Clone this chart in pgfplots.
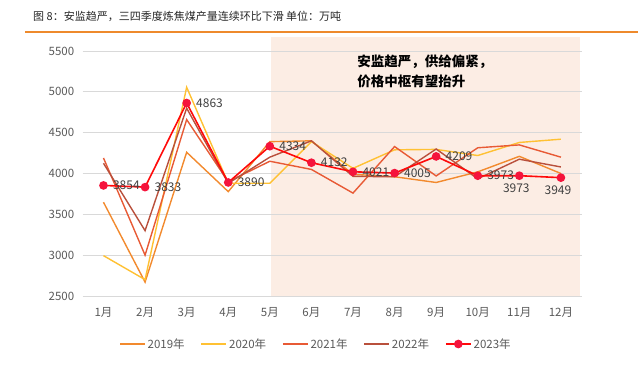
\documentclass[border=0pt]{standalone}
\usepackage{fontspec}
\setmainfont{Noto Sans CJK SC}
\usepackage{pgfplots}
\pgfplotsset{compat=1.18}
\definecolor{c19}{HTML}{F28A2E}
\definecolor{c20}{HTML}{FFC133}
\definecolor{c21}{HTML}{E85A35}
\definecolor{c22}{HTML}{B9503C}
\definecolor{c23}{HTML}{FF0A0A}
\definecolor{mk}{HTML}{F5143C}
\definecolor{shadec}{HTML}{FCEDE4}
\definecolor{gridc}{HTML}{D9D9D9}
\definecolor{tickc}{HTML}{595959}
\definecolor{labc}{HTML}{404040}
\definecolor{titlec}{HTML}{262626}
\definecolor{rulec}{HTML}{EE8A2C}
\pgfplotsset{/pgf/number format/assume math mode=true, /pgf/number format/1000 sep={}}
\begin{document}
\begin{tikzpicture}
\node[anchor=west, font=\fontsize{11}{13}\selectfont, text=titlec, inner sep=0pt] at (33pt,353pt) {图 8：安监趋严，三四季度炼焦煤产量连续环比下滑 单位：万吨};
\draw[rulec, line width=1.2pt] (25pt,337pt) -- (638pt,337pt);
\begin{axis}[
  set layers,
  at={(82.7pt,73pt)}, anchor=south west, scale only axis,
  width=499pt, height=245pt,
  xmin=0.5, xmax=12.5, ymin=2500, ymax=5500,
  xtick={1,...,12},
  xticklabels={1月,2月,3月,4月,5月,6月,7月,8月,9月,10月,11月,12月},
  ytick={2500,3000,...,5500},
  axis line style={draw=none},
  major tick length=0pt,
  ymajorgrids,
  grid style={gridc, line width=0.8pt},
  tick label style={font=\fontsize{11.5}{13}\selectfont, text=tickc},
  yticklabel style={xshift=-5pt},
  xticklabel style={yshift=-8pt},
  clip=false,
  legend style={at={(0.4675,-0.196)}, anchor=center, draw=none, fill=none,
    font=\fontsize{11.5}{13}\selectfont, text=tickc,
    /tikz/every even column/.append style={column sep=14pt}},
  legend columns=5,
  legend image code/.code={\draw[#1, mark repeat=2, mark phase=2] plot coordinates {(0pt,0pt) (12.5pt,0pt) (25pt,0pt)};},
]
\addplot[forget plot, fill=shadec, draw=none, mark=none, on layer=axis background] coordinates {(5.02,2500)(12.47,2500)(12.47,5670)(5.02,5670)} -- cycle;
\addplot[c19, line width=1.4pt, mark=none] coordinates {(1,3648)(2,2670)(3,4260)(4,3778)(5,4390)(6,4400)(7,3990)(8,3960)(9,3890)(10,4020)(11,4210)(12,4000)};
\addlegendentry{2019年}
\addplot[c20, line width=1.4pt, mark=none] coordinates {(1,2994)(2,2700)(3,5056)(4,3880)(5,3880)(6,4390)(7,4063)(8,4290)(9,4295)(10,4220)(11,4380)(12,4420)};
\addlegendentry{2020年}
\addplot[c21, line width=1.4pt, mark=none] coordinates {(1,4190)(2,3000)(3,4660)(4,3900)(5,4150)(6,4050)(7,3760)(8,4330)(9,3970)(10,4315)(11,4350)(12,4200)};
\addlegendentry{2021年}
\addplot[c22, line width=1.4pt, mark=none] coordinates {(1,4125)(2,3300)(3,4800)(4,3880)(5,4200)(6,4400)(7,3965)(8,3960)(9,4300)(10,3935)(11,4175)(12,4080)};
\addlegendentry{2022年}
\addplot[c23, line width=1.6pt, mark=*, mark size=3.5pt, mark options={fill=mk, draw=mk}] coordinates {(1,3854)(2,3833)(3,4863)(4,3890)(5,4334)(6,4132)(7,4021)(8,4005)(9,4209)(10,3973)(11,3973)(12,3949)};
\addlegendentry{2023年}
\addplot[draw=none, mark=none, forget plot, nodes near coords,
  nodes near coords style={anchor=west, xshift=6pt, font=\fontsize{12}{14}\selectfont, text=labc}]
  coordinates {(1,3854)(2,3833)(3,4863)(4,3890)(5,4334)(6,4132)(7,4021)(8,4005)(9,4209)(10,3973)};
\addplot[draw=none, mark=none, forget plot, nodes near coords,
  nodes near coords style={anchor=north, yshift=-5pt, xshift=-3pt, font=\fontsize{12}{14}\selectfont, text=labc}]
  coordinates {(11,3973)(12,3949)};
\node[anchor=north west, inner sep=0pt, align=left, font=\bfseries\fontsize{13.5}{20}\selectfont, text=black] at (axis cs:7.1,5452) {安监趋严，供给偏紧，\\价格中枢有望抬升};
\end{axis}
\pgfresetboundingbox
\path[use as bounding box] (0pt,0pt) rectangle (638pt,369pt);
\end{tikzpicture}
\end{document}
